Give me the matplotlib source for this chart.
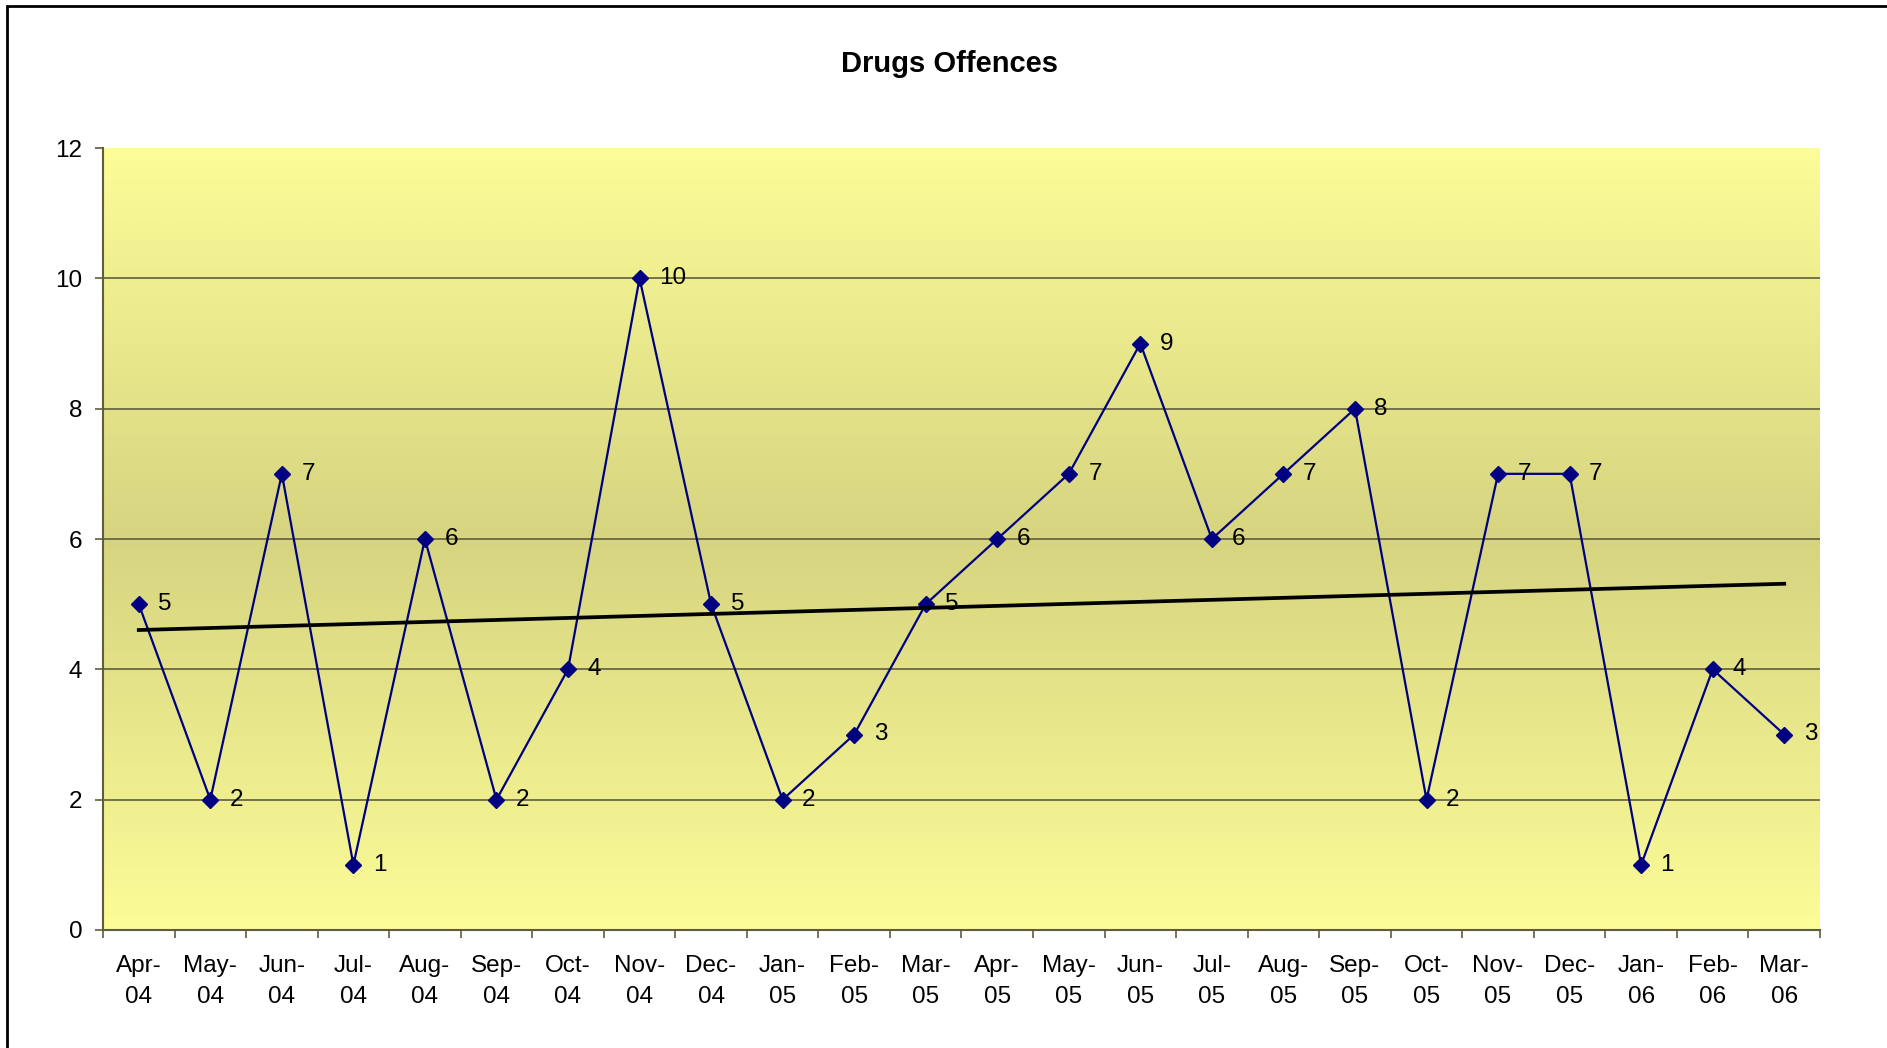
import matplotlib
matplotlib.use('Agg')
import matplotlib.pyplot as plt
import numpy as np
from matplotlib.colors import LinearSegmentedColormap
from matplotlib.patches import Rectangle

plt.rcParams['font.family'] = ['Liberation Sans', 'DejaVu Sans']

months = ['Apr-\n04', 'May-\n04', 'Jun-\n04', 'Jul-\n04', 'Aug-\n04', 'Sep-\n04',
          'Oct-\n04', 'Nov-\n04', 'Dec-\n04', 'Jan-\n05', 'Feb-\n05', 'Mar-\n05',
          'Apr-\n05', 'May-\n05', 'Jun-\n05', 'Jul-\n05', 'Aug-\n05', 'Sep-\n05',
          'Oct-\n05', 'Nov-\n05', 'Dec-\n05', 'Jan-\n06', 'Feb-\n06', 'Mar-\n06']
offences = [5, 2, 7, 1, 6, 2, 4, 10, 5, 2, 3, 5,
            6, 7, 9, 6, 7, 8, 2, 7, 7, 1, 4, 3]
y_ticks = [0, 2, 4, 6, 8, 10, 12]
title = 'Drugs Offences'

W, H = 1887, 1048
fig = plt.figure(figsize=(W / 100, H / 100), dpi=100)
ax = fig.add_axes([103 / W, 1 - 930 / H, (1820 - 103) / W, (930 - 148) / H])

x = np.arange(len(offences))
ax.set_xlim(-0.5, len(offences) - 0.5)
ax.set_ylim(0, 12)

# yellow -> olive -> yellow background
cmap = LinearSegmentedColormap.from_list('bg', ['#FCFC98', '#D6D480', '#FCFC98'])
grad = np.linspace(0, 1, 256).reshape(-1, 1)
ax.imshow(grad, cmap=cmap, aspect='auto', extent=[-0.5, len(offences) - 0.5, 0, 12],
          zorder=0, interpolation='bicubic')

grid_col = '#5e5e3c'
for yv in y_ticks[1:-1]:
    ax.axhline(yv, color=grid_col, lw=1.2, zorder=1)

ax.plot(x, offences, color='#000080', lw=1.6, marker='D', ms=8, zorder=3)

# linear trend
k, b = np.polyfit(x, offences, 1)
ax.plot([x[0], x[-1]], [k * x[0] + b, k * x[-1] + b], color='black', lw=2.7, zorder=4)

for xi, v in zip(x, offences):
    ax.annotate(str(v), (xi, v), xytext=(14, 0), textcoords='offset points',
                ha='left', va='center', fontsize=17.5, color='black', zorder=5)

for s in ['top', 'right']:
    ax.spines[s].set_visible(False)
for s in ['left', 'bottom']:
    ax.spines[s].set_color(grid_col)
    ax.spines[s].set_linewidth(1.5)

ax.set_yticks(y_ticks)
ax.tick_params(axis='y', length=6, width=1.2, color=grid_col, pad=9, labelsize=17.5)
ax.set_xticks(np.arange(-0.5, len(offences)), labels=[''] * (len(offences) + 1))
ax.set_xticks(x, labels=months, minor=True)
ax.tick_params(axis='x', which='major', length=6, width=1.2, color=grid_col)
ax.tick_params(axis='x', which='minor', length=0, pad=18, labelsize=17.5)
for t in ax.get_xticklabels(minor=True):
    t.set_linespacing(1.55)

fig.text(950 / W, 1 - 64 / H, title, ha='center', va='center', fontsize=21, fontweight='bold')

fig.patches.append(Rectangle((7 / W, -0.05), 1.2, 1.05 - 6 / H, transform=fig.transFigure,
                             fill=False, edgecolor='black', lw=2))

fig.savefig('out.png', dpi=100)
